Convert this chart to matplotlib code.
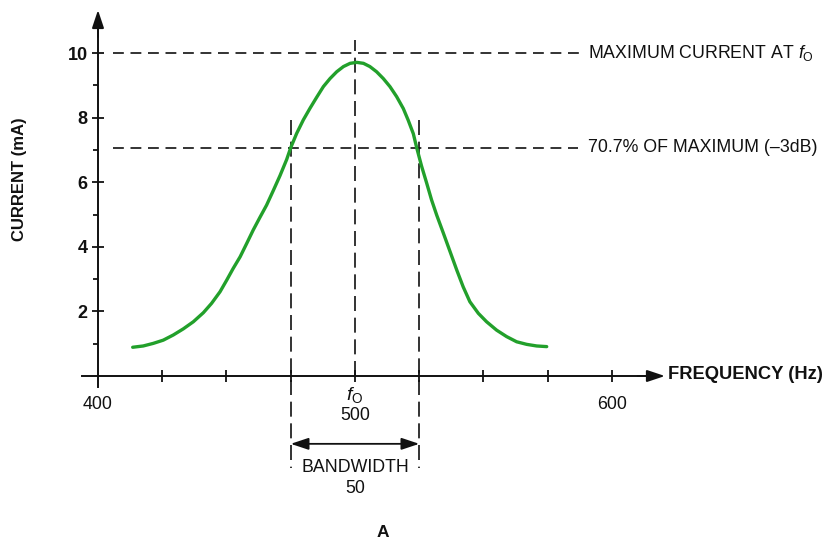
import matplotlib
matplotlib.use("Agg")
import matplotlib.pyplot as plt

plt.rcParams['font.family'] = ['Liberation Sans', 'DejaVu Sans']
plt.rcParams['mathtext.fontset'] = 'custom'
plt.rcParams['mathtext.rm'] = 'Liberation Sans'
plt.rcParams['mathtext.it'] = 'Liberation Sans:italic'

# Resonance curve: current (mA) against frequency (Hz)
freq = [413.5, 417.6, 421.5, 425.4, 429.3, 433.2, 437.1, 441.0, 444.2, 447.5,
        450.1, 452.6, 455.3, 457.9, 460.4, 463.0, 465.6, 468.2, 470.8, 473.4,
        475.0, 477.3, 479.9, 482.5, 485.1, 487.7, 490.3, 492.9, 495.5, 498.1,
        500.7, 503.3, 505.8, 508.4, 511.0, 513.6, 516.2, 518.8, 520.7, 522.7,
        524.0, 525.9, 527.9, 529.8, 531.8, 534.4, 537.0, 539.6, 542.1, 544.7,
        548.0, 551.2, 555.1, 559.0, 562.9, 566.8, 570.7, 574.6]
current = [0.89, 0.93, 1.01, 1.11, 1.27, 1.46, 1.68, 1.96, 2.25, 2.61,
           2.97, 3.33, 3.69, 4.11, 4.52, 4.91, 5.29, 5.74, 6.20, 6.70,
           7.07, 7.51, 7.93, 8.29, 8.63, 8.96, 9.21, 9.42, 9.58, 9.68,
           9.71, 9.68, 9.58, 9.42, 9.21, 8.96, 8.65, 8.28, 7.92, 7.50,
           7.07, 6.50, 5.97, 5.45, 4.98, 4.42, 3.85, 3.28, 2.76, 2.30,
           1.94, 1.68, 1.42, 1.22, 1.06, 0.98, 0.93, 0.91]

f0 = 500
f_low, f_high = 475, 525
i_max = 10
i_half = 7.07
bandwidth = f_high - f_low

y_major = [2, 4, 6, 8, 10]
y_minor = [1, 3, 5, 7, 9]
x_ticks = [425, 450, 475, 500, 525, 550, 575, 600]
x_labels = {400: "400", 600: "600"}

ink = '#111111'
green = '#22a02b'

fig = plt.figure(figsize=(8.29, 5.41), dpi=100)
ax = fig.add_axes([0, 0, 1, 1])
ax.set_xlim(361.87, 684.44)
ax.set_ylim(-5.108, 11.641)
ax.patch.set_alpha(0)

# axes through the origin (400 Hz, 0 mA)
for s in ['top', 'right']:
    ax.spines[s].set_visible(False)
ax.spines['left'].set_position(('data', 400))
ax.spines['bottom'].set_position(('data', 0))
ax.spines['left'].set_bounds(-0.34, 11.0)
ax.spines['bottom'].set_bounds(393.8, 618)
for s in ['left', 'bottom']:
    ax.spines[s].set_linewidth(1.4)
    ax.spines[s].set_color(ink)

ax.set_yticks(y_major)
ax.set_yticklabels([str(v) for v in y_major], fontweight='bold', fontsize=13)
ax.set_yticks(y_minor, minor=True)
ax.tick_params(axis='y', which='major', direction='inout', length=9, width=1.3,
               pad=3, colors=ink)
ax.tick_params(axis='y', which='minor', direction='out', length=3.6, width=1.3,
               colors=ink)
ax.set_xticks(x_ticks)
ax.set_xticklabels([])
ax.tick_params(axis='x', which='major', direction='inout', length=8.6, width=1.3,
               colors=ink)

# axis arrowheads
arrow = dict(arrowstyle='-|>,head_length=0.9,head_width=0.3', color=ink,
             lw=1.4, mutation_scale=12, shrinkA=0, shrinkB=0)
ax.annotate('', xy=(400, 11.33), xytext=(400, 10.5), arrowprops=arrow)
ax.annotate('', xy=(620.6, 0), xytext=(610, 0), arrowprops=arrow)

# reference lines
hdash = (0, (6.5, 4))
vdash = (0, (9, 4))
ax.plot([405.8, 589.5], [i_max, i_max], color=ink, lw=1.2, ls=hdash)
ax.plot([405.8, 586.8], [i_half, i_half], color=ink, lw=1.2, ls=hdash)
ax.plot([f0, f0], [0, 10.4], color=ink, lw=1.2, ls=vdash)
for f in (f_low, f_high):
    ax.plot([f, f], [7.93, -2.85], color=ink, lw=1.2, ls=vdash)

# resonance curve
ax.plot(freq, current, color=green, lw=2.4, solid_capstyle='round',
        solid_joinstyle='round', zorder=5)

# bandwidth arrow
ax.annotate('', xy=(f_low, -2.1), xytext=(f_high, -2.1),
            arrowprops=dict(arrowstyle='<|-|>,head_length=0.9,head_width=0.3',
                            color=ink, lw=1.3, mutation_scale=12,
                            shrinkA=0, shrinkB=0))

txt = dict(color=ink, fontsize=12.8)
for xv, lab in x_labels.items():
    ax.text(xv, -0.87, lab, ha='center', va='center', **txt)
ax.text(f0, -0.59, r'$\mathit{f}_{\mathrm{O}}$', ha='center', va='center',
        color=ink, fontsize=14)
ax.text(f0, -1.21, str(f0), ha='center', va='center', **txt)
ax.text(f0, -2.82, 'BANDWIDTH', ha='center', va='center', **txt)
ax.text(f0, -3.47, str(bandwidth), ha='center', va='center', **txt)
ax.text(510.9, -4.86, 'A', ha='center', va='center', fontweight='bold',
        color=ink, fontsize=12.5)

ax.text(590.7, i_max, r'MAXIMUM CURRENT AT $\mathit{f}_{\mathrm{O}}$',
        ha='left', va='center', **txt)
ax.text(590.7, i_half, '70.7% OF MAXIMUM (\u20133dB)', ha='left', va='center', **txt)
ax.text(621.8, 0.05, 'FREQUENCY (Hz)', ha='left', va='center',
        fontweight='bold', color=ink, fontsize=13.2)
ax.text(369.5, 6.1, 'CURRENT (mA)', ha='center', va='center', rotation=90,
        fontweight='bold', color=ink, fontsize=12)

fig.savefig('out.png', dpi=100)
